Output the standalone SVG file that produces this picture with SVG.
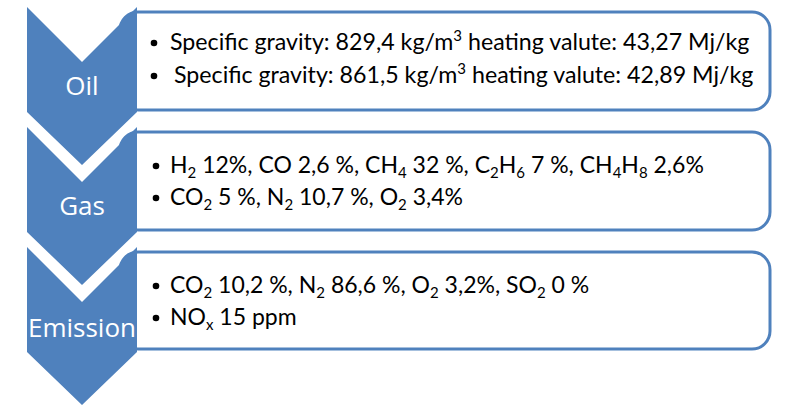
<svg xmlns="http://www.w3.org/2000/svg" width="800" height="412" viewBox="0 0 800 412">
<style>
.box{fill:#ffffff;stroke:#4f81bd;stroke-width:3}
.chev{fill:#4f81bd}
.lbl{font-family:"Open Sans",sans-serif;font-size:26px;fill:#ffffff;text-anchor:middle}
.t{font-family:Lato,"Open Sans",sans-serif;font-size:23px;fill:#000000}
.t1{font-family:Lato,"Open Sans",sans-serif;font-size:23.2px;fill:#000000}
.b{fill:#000000}
.sub{font-size:15px}
</style>
<g id="box-oil"><rect class="box" x="120" y="12" width="650" height="98" rx="18"/>
<circle class="b" cx="154" cy="43" r="3.3"/><text class="t1" x="170" y="50">Specific gravity: 829,4 kg/m<tspan class="sub" dy="-9">3</tspan><tspan dy="9"> heating valute: 43,27 Mj/kg</tspan></text>
<circle class="b" cx="154" cy="76" r="3.3"/><text class="t1" x="174" y="83">Specific gravity: 861,5 kg/m<tspan class="sub" dy="-9">3</tspan><tspan dy="9"> heating valute: 42,89 Mj/kg</tspan></text>
</g>
<g id="box-gas"><rect class="box" x="120" y="132" width="650" height="98" rx="18"/>
<circle class="b" cx="156" cy="166" r="3.3"/><text class="t" x="170" y="173">H<tspan class="sub" dy="5">2</tspan><tspan dy="-5"> 12%, CO 2,6 %, CH</tspan><tspan class="sub" dy="5">4</tspan><tspan dy="-5"> 32 %, C</tspan><tspan class="sub" dy="5">2</tspan><tspan dy="-5">H</tspan><tspan class="sub" dy="5">6</tspan><tspan dy="-5"> 7 %, CH</tspan><tspan class="sub" dy="5">4</tspan><tspan dy="-5">H</tspan><tspan class="sub" dy="5">8</tspan><tspan dy="-5"> 2,6%</tspan></text>
<circle class="b" cx="156" cy="198" r="3.3"/><text class="t" x="170" y="205">CO<tspan class="sub" dy="5">2</tspan><tspan dy="-5"> 5 %, N</tspan><tspan class="sub" dy="5">2</tspan><tspan dy="-5"> 10,7 %, O</tspan><tspan class="sub" dy="5">2</tspan><tspan dy="-5"> 3,4%</tspan></text>
</g>
<g id="box-emission"><rect class="box" x="120" y="252" width="650" height="97" rx="18"/>
<circle class="b" cx="156" cy="286" r="3.3"/><text class="t" x="170" y="293">CO<tspan class="sub" dy="5">2</tspan><tspan dy="-5"> 10,2 %, N</tspan><tspan class="sub" dy="5">2</tspan><tspan dy="-5"> 86,6 %, O</tspan><tspan class="sub" dy="5">2</tspan><tspan dy="-5"> 3,2%, SO</tspan><tspan class="sub" dy="5">2</tspan><tspan dy="-5"> 0 %</tspan></text>
<circle class="b" cx="156" cy="318" r="3.3"/><text class="t" x="170" y="325">NO<tspan class="sub" dy="5">x</tspan><tspan dy="-5"> 15 ppm</tspan></text>
</g>
<g id="oil"><path class="chev" d="M27,7 L82,62 L137,7 L137,112 L82,165 L27,112 Z"/><text class="lbl" x="82" y="95">Oil</text></g>
<g id="gas"><path class="chev" d="M27,127 L82,182 L137,127 L137,232 L82,285 L27,232 Z"/><text class="lbl" x="82" y="215">Gas</text></g>
<g id="emission"><path class="chev" d="M27,247 L82,302 L137,247 L137,352 L82,405 L27,352 Z"/><text class="lbl" x="82" y="337">Emission</text></g>
<g id="connectors"/>
</svg>
